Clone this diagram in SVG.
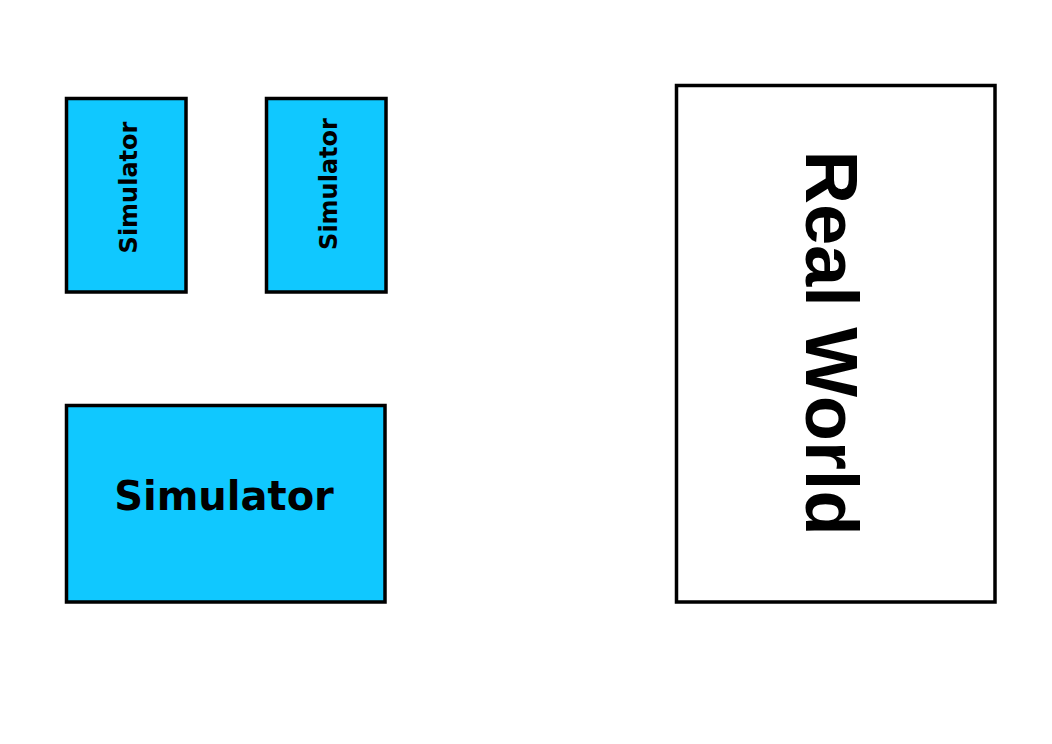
<svg xmlns="http://www.w3.org/2000/svg" width="1052" height="744" viewBox="0 0 1052 744">
<style>
.box{fill:#10c8ff;stroke:#000;stroke-width:3.5}
.rw{fill:#fff;stroke:#000;stroke-width:3.5}
.lbl{font-family:"DejaVu Sans",sans-serif;font-weight:bold;fill:#000;text-anchor:middle}
.big{font-family:"Liberation Sans",Arial,sans-serif;font-weight:bold;fill:#000;text-anchor:middle}
</style>
<rect width="1052" height="744" fill="#fff"/>
<g id="sim1">
<rect class="box" x="66.5" y="98.5" width="119.5" height="193.5"/>
<text class="lbl" font-size="24" transform="translate(137,187.5) rotate(-90)">Simulator</text>
</g>
<g id="sim2">
<rect class="box" x="266.5" y="98.5" width="119.5" height="193.5"/>
<text class="lbl" font-size="24" transform="translate(337,184) rotate(-90)">Simulator</text>
</g>
<g id="sim3">
<rect class="box" x="66.5" y="405.5" width="318.5" height="196.5"/>
<text class="lbl" font-size="40" x="224" y="510">Simulator</text>
</g>
<g id="realworld">
<rect class="rw" x="676.5" y="85.5" width="318.5" height="516.5"/>
<text class="big" font-size="74" transform="translate(806,343) rotate(90)">Real World</text>
</g>
<g id="connectors"></g>
</svg>
